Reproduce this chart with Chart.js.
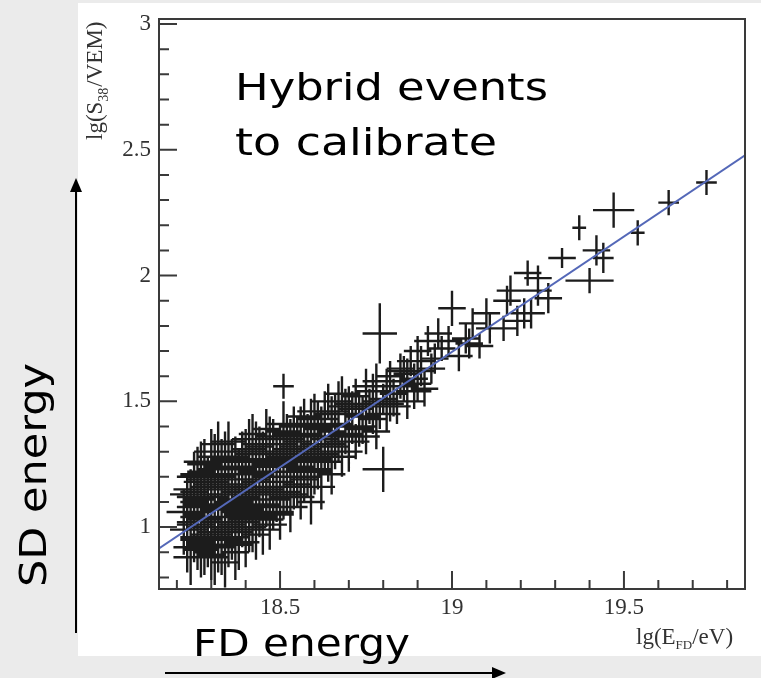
<!DOCTYPE html>
<html>
<head>
<meta charset="utf-8">
<script src="https://cdn.jsdelivr.net/npm/chart.js@4.4.1/dist/chart.umd.min.js"></script>
<style>
  html, body { margin: 0; padding: 0; background: #ebebeb; }
  #wrap { width: 761px; height: 678px; }
</style>
</head>
<body>
<div id="wrap"><canvas id="myChart" width="761" height="678"></canvas></div>
<script>
// hybrid events: lg(E_FD/eV), lg(S38/VEM) and their errors
const eventX = [
  18.23, 18.23, 18.24, 18.24, 18.25, 18.25, 18.25, 18.26, 18.26, 18.26,
  18.27, 18.27, 18.27, 18.28, 18.28, 18.28, 18.28, 18.29, 18.29, 18.29,
  18.30, 18.30, 18.30, 18.30, 18.31, 18.31, 18.31, 18.32, 18.32, 18.32,
  18.32, 18.33, 18.33, 18.33, 18.34, 18.34, 18.34, 18.35, 18.35, 18.35,
  18.36, 18.36, 18.36, 18.37, 18.37, 18.37, 18.38, 18.38, 18.38, 18.39,
  18.39, 18.39, 18.40, 18.40, 18.40, 18.41, 18.41, 18.41, 18.42, 18.42,
  18.42, 18.43, 18.43, 18.43, 18.44, 18.44, 18.45, 18.45, 18.45, 18.46,
  18.46, 18.47, 18.47, 18.47, 18.48, 18.48, 18.49, 18.49, 18.50, 18.50,
  18.51, 18.51, 18.51, 18.52, 18.52, 18.53, 18.53, 18.54, 18.54, 18.55,
  18.55, 18.56, 18.56, 18.57, 18.57, 18.58, 18.58, 18.59, 18.59, 18.60,
  18.60, 18.61, 18.61, 18.62, 18.62, 18.63, 18.63, 18.64, 18.64, 18.65,
  18.65, 18.66, 18.66, 18.67, 18.68, 18.68, 18.69, 18.70, 18.70, 18.71,
  18.72, 18.72, 18.73, 18.74, 18.75, 18.75, 18.76, 18.77, 18.78, 18.78,
  18.79, 18.80, 18.80, 18.81, 18.82, 18.83, 18.84, 18.85, 18.86, 18.87,
  18.88, 18.89, 18.90, 18.91, 18.92, 18.93, 18.95, 18.97, 18.99, 19.00,
  19.02, 19.04, 19.06, 19.08, 19.10, 19.11, 19.15, 19.16, 19.17, 19.19,
  19.21, 19.22, 19.23, 19.25, 19.25, 19.28, 19.32, 19.37, 19.40, 19.42,
  19.44, 19.47, 19.54, 19.63, 19.74,
  18.24, 18.25, 18.26, 18.27, 18.28, 18.29, 18.30, 18.31, 18.32, 18.33,
  18.34, 18.35, 18.36, 18.37, 18.38, 18.39, 18.40, 18.41, 18.42, 18.43,
  18.44, 18.46, 18.48, 18.50, 18.52, 18.54, 18.56, 18.58, 18.60, 18.62,
  18.27, 18.29, 18.31, 18.33, 18.35, 18.37, 18.39, 18.41, 18.44, 18.47,
  18.22, 18.23, 18.24, 18.25, 18.26, 18.27, 18.28, 18.29, 18.30, 18.31,
  18.22, 18.23, 18.24, 18.25, 18.26, 18.27, 18.28, 18.29, 18.30, 18.31,
  18.32, 18.33, 18.34, 18.35, 18.36, 18.37, 18.38, 18.39, 18.40, 18.41,
  18.32, 18.33, 18.34, 18.35, 18.36, 18.37, 18.38, 18.39, 18.40, 18.41,
  18.42, 18.43, 18.44, 18.45, 18.46, 18.47, 18.48, 18.49, 18.50, 18.51,
  18.42, 18.43, 18.44, 18.45, 18.46, 18.47, 18.48, 18.49, 18.50, 18.51,
  18.52, 18.53, 18.54, 18.55, 18.56, 18.57, 18.58, 18.59, 18.60, 18.61,
  18.52, 18.53, 18.55, 18.57, 18.59, 18.61, 18.63, 18.65, 18.67, 18.69,
  18.24, 18.26, 18.28, 18.30, 18.32, 18.34, 18.36, 18.38, 18.40, 18.42,
  18.25, 18.27, 18.29, 18.31, 18.33, 18.35, 18.37, 18.39, 18.41, 18.43,
  18.55, 18.57, 18.59, 18.61, 18.63, 18.65, 18.67, 18.69, 18.71, 18.73,
  18.75, 18.77, 18.79, 18.81, 18.83, 18.85, 18.87, 18.89, 18.91, 18.94,
  18.62, 18.66, 18.70, 18.74, 18.78, 18.82, 18.86, 18.90, 18.96, 19.05
];
const eventY = [
  1.02, 1.08, 0.96, 1.12, 1.05, 0.99, 1.18, 1.09, 0.93, 1.14,
  1.01, 1.22, 1.06, 0.97, 1.11, 1.16, 0.90, 1.03, 1.20, 1.08,
  0.95, 1.13, 1.30, 1.00, 1.07, 0.88, 1.18, 1.04, 1.24, 0.97,
  1.12, 1.09, 0.92, 1.20, 1.02, 1.15, 0.86, 1.07, 1.27, 0.95,
  1.11, 1.01, 1.19, 0.90, 1.14, 1.05, 1.23, 0.98, 1.10, 1.30,
  1.04, 1.17, 0.94, 1.12, 1.21, 1.07, 1.35, 1.16, 1.00, 1.26,
  1.37, 1.11, 1.19, 0.97, 1.24, 1.05, 1.14, 1.30, 0.99, 1.20,
  1.09, 1.27, 1.15, 1.03, 1.35, 1.22, 1.11, 1.29, 1.18, 1.05,
  1.56, 1.25, 1.38, 1.14, 1.31, 1.22, 1.08, 1.40, 1.27, 1.17,
  1.34, 1.24, 1.12, 1.44, 1.30, 1.20, 1.37, 1.27, 1.10, 1.33,
  1.46, 1.23, 1.39, 1.30, 1.16, 1.43, 1.35, 1.26, 1.50, 1.38,
  1.21, 1.32, 1.46, 1.41, 1.28, 1.53, 1.36, 1.45, 1.30, 1.40,
  1.52, 1.34, 1.47, 1.40, 1.56, 1.36, 1.48, 1.43, 1.58, 1.38,
  1.77, 1.23, 1.51, 1.45, 1.60, 1.53, 1.48, 1.63, 1.56, 1.50,
  1.66, 1.59, 1.70, 1.62, 1.55, 1.74, 1.67, 1.71, 1.74, 1.87,
  1.68, 1.75, 1.81, 1.72, 1.85, 1.79, 1.79, 1.90, 1.94, 1.82,
  1.85, 2.01, 1.85, 1.99, 1.94, 1.91, 2.07, 2.19, 1.98, 2.10,
  2.07, 2.26, 2.17, 2.29, 2.37,
  1.04, 1.10, 1.03, 1.12, 1.06, 1.13, 1.08, 1.15, 1.09, 1.16,
  1.10, 1.17, 1.14, 1.19, 1.15, 1.21, 1.17, 1.24, 1.18, 1.26,
  1.21, 1.25, 1.26, 1.28, 1.24, 1.32, 1.29, 1.31, 1.28, 1.36,
  0.94, 0.98, 0.96, 1.00, 1.02, 1.00, 1.08, 1.03, 1.09, 1.09,
  1.06, 0.92, 1.15, 0.95, 1.21, 1.00, 1.25, 0.93, 1.17, 1.02,
  0.99, 1.13, 1.01, 1.20, 1.04, 0.91, 1.13, 1.16, 0.89, 1.28,
  0.93, 1.26, 1.08, 1.21, 0.96, 1.28, 1.06, 1.23, 1.03, 1.29,
  1.16, 1.02, 1.30, 0.99, 1.24, 1.10, 0.93, 1.13, 1.31, 1.00,
  1.09, 1.33, 1.04, 1.27, 1.13, 1.36, 1.08, 1.24, 1.33, 1.12,
  1.22, 1.06, 1.32, 1.18, 1.39, 1.01, 1.30, 1.16, 1.06, 1.41,
  1.20, 1.35, 1.16, 1.28, 1.40, 1.19, 1.29, 1.43, 1.22, 1.32,
  1.37, 1.13, 1.30, 1.26, 1.36, 1.43, 1.29, 1.45, 1.34, 1.48,
  0.88, 1.11, 1.19, 0.92, 1.33, 0.98, 1.26, 0.94, 1.27, 1.31,
  1.14, 1.26, 0.95, 1.23, 1.16, 1.34, 1.23, 1.02, 1.06, 1.15,
  1.36, 1.23, 1.41, 1.27, 1.46, 1.33, 1.50, 1.37, 1.47, 1.39,
  1.49, 1.54, 1.45, 1.56, 1.50, 1.58, 1.61, 1.54, 1.66, 1.63,
  1.40, 1.30, 1.49, 1.44, 1.50, 1.49, 1.62, 1.57, 1.77, 1.73
];
const errX = [
  .03, .03, .03, .04, .03, .04, .03, .04, .03, .03,
  .04, .04, .03, .04, .03, .04, .03, .04, .05, .03,
  .04, .04, .05, .03, .04, .04, .04, .04, .04, .04,
  .03, .04, .04, .04, .04, .03, .04, .04, .05, .04,
  .04, .04, .04, .04, .04, .03, .04, .04, .04, .05,
  .04, .04, .04, .04, .04, .04, .05, .04, .04, .04,
  .04, .04, .04, .04, .04, .04, .04, .04, .05, .04,
  .04, .04, .04, .04, .04, .04, .04, .04, .04, .04,
  .03, .04, .05, .04, .04, .04, .05, .04, .04, .04,
  .04, .04, .04, .05, .04, .04, .04, .04, .04, .04,
  .05, .04, .04, .04, .04, .04, .04, .04, .05, .04,
  .04, .04, .04, .04, .04, .05, .04, .04, .04, .04,
  .04, .04, .04, .04, .04, .04, .04, .04, .04, .04,
  .05, .06, .04, .04, .04, .04, .04, .04, .04, .05,
  .04, .04, .04, .04, .04, .04, .04, .04, .04, .04,
  .04, .04, .04, .04, .04, .04, .04, .04, .04, .04,
  .04, .04, .04, .04, .04, .04, .04, .02, .07, .04,
  .03, .06, .02, .03, .03,
  .03, .04, .03, .04, .03, .04, .03, .04, .03, .04,
  .03, .04, .03, .04, .03, .04, .03, .04, .03, .04,
  .04, .04, .04, .04, .04, .04, .04, .04, .04, .04,
  .04, .03, .04, .03, .04, .03, .04, .03, .04, .03,
  .05, .04, .05, .04, .05, .04, .05, .04, .05, .04,
  .04, .05, .04, .05, .04, .05, .04, .05, .04, .05,
  .05, .04, .05, .04, .05, .04, .05, .04, .05, .04,
  .04, .05, .04, .05, .04, .05, .04, .05, .04, .05,
  .05, .04, .05, .04, .05, .04, .05, .04, .05, .04,
  .04, .05, .04, .05, .04, .05, .04, .05, .04, .05,
  .05, .04, .05, .04, .05, .04, .05, .04, .05, .04,
  .04, .05, .04, .05, .04, .05, .04, .05, .04, .05,
  .05, .04, .05, .04, .05, .04, .05, .04, .05, .04,
  .04, .05, .04, .05, .04, .05, .04, .05, .04, .05,
  .04, .05, .04, .04, .05, .04, .04, .05, .04, .04,
  .04, .05, .04, .04, .05, .04, .04, .05, .04, .04,
  .05, .04, .04, .05, .04, .04, .05, .04, .04, .04
];
const errY = [
  .08, .07, .09, .08, .08, .10, .07, .08, .10, .07,
  .09, .08, .08, .10, .08, .07, .09, .09, .08, .08,
  .10, .08, .09, .09, .08, .11, .07, .09, .08, .10,
  .08, .09, .11, .08, .10, .08, .10, .09, .08, .11,
  .08, .10, .09, .11, .08, .09, .08, .10, .09, .08,
  .09, .08, .10, .09, .08, .09, .08, .09, .10, .08,
  .08, .09, .08, .10, .08, .09, .09, .08, .10, .08,
  .09, .08, .08, .10, .08, .09, .09, .08, .09, .10,
  .05, .08, .08, .09, .08, .08, .10, .08, .08, .09,
  .08, .08, .09, .07, .08, .08, .08, .08, .09, .08,
  .07, .08, .08, .07, .09, .08, .07, .08, .07, .07,
  .08, .08, .07, .07, .08, .07, .07, .07, .08, .07,
  .07, .07, .07, .07, .07, .07, .07, .06, .07, .07,
  .12, .09, .06, .07, .06, .06, .07, .06, .06, .07,
  .06, .06, .06, .06, .07, .06, .06, .05, .06, .07,
  .06, .06, .06, .05, .06, .06, .05, .06, .06, .06,
  .06, .05, .06, .05, .06, .06, .04, .05, .05, .06,
  .06, .07, .05, .05, .05,
  .09, .08, .09, .08, .09, .08, .09, .08, .09, .08,
  .09, .08, .09, .08, .09, .08, .09, .08, .09, .08,
  .08, .08, .08, .08, .08, .08, .08, .08, .08, .08,
  .10, .10, .11, .10, .10, .11, .10, .10, .10, .10,
  .09, .10, .08, .09, .11, .08, .10, .09, .08, .10,
  .10, .08, .09, .10, .08, .11, .09, .08, .10, .09,
  .11, .09, .08, .10, .09, .08, .10, .09, .08, .10,
  .09, .10, .08, .11, .09, .08, .10, .09, .08, .10,
  .10, .09, .08, .09, .10, .08, .09, .10, .08, .09,
  .09, .10, .08, .09, .08, .10, .09, .08, .10, .09,
  .09, .08, .09, .08, .08, .09, .08, .08, .09, .08,
  .08, .09, .08, .08, .08, .07, .08, .07, .08, .07,
  .11, .09, .08, .10, .09, .10, .09, .11, .09, .08,
  .09, .08, .10, .09, .09, .08, .09, .10, .10, .09,
  .08, .07, .08, .07, .08, .07, .08, .07, .07, .07,
  .07, .07, .06, .07, .06, .07, .06, .07, .06, .06,
  .08, .07, .07, .08, .07, .07, .06, .07, .06, .06
];

// calibration fit line
const fitX = [18.148, 19.852];
const fitY = [0.915, 2.478];

// axis ticks
const xTicks = [18.5, 19, 19.5];
const xTickLabels = ['18.5', '19', '19.5'];
const yTicks = [1, 1.5, 2, 2.5, 3];
const yTickLabels = ['1', '1.5', '2', '2.5', '3'];

const events = eventX.map((x, i) => ({ x: x, y: eventY[i], ex: errX[i], ey: errY[i] }));
const fitLine = fitX.map((x, i) => ({ x: x, y: fitY[i] }));

const errorBars = {
  id: 'errorBars',
  beforeDatasetsDraw(chart) {
    const { ctx, chartArea, scales: { x, y } } = chart;
    ctx.save();
    ctx.beginPath();
    ctx.rect(chartArea.left, chartArea.top, chartArea.right - chartArea.left, chartArea.bottom - chartArea.top);
    ctx.clip();
    ctx.strokeStyle = '#1c1c1c';
    ctx.lineWidth = 2.4;
    ctx.beginPath();
    chart.data.datasets[0].data.forEach(p => {
      const px = x.getPixelForValue(p.x), py = y.getPixelForValue(p.y);
      ctx.moveTo(x.getPixelForValue(p.x - p.ex), py);
      ctx.lineTo(x.getPixelForValue(p.x + p.ex), py);
      ctx.moveTo(px, y.getPixelForValue(p.y - p.ey));
      ctx.lineTo(px, y.getPixelForValue(p.y + p.ey));
    });
    ctx.stroke();
    ctx.restore();
  }
};

function stretchText(ctx, text, x, y, width) {
  const w = ctx.measureText(text).width;
  ctx.save();
  ctx.translate(x, y);
  ctx.scale(width / w, 1);
  ctx.fillText(text, 0, 0);
  ctx.restore();
}

function arrow(ctx, x0, y0, x1, y1) {
  const a = Math.atan2(y1 - y0, x1 - x0);
  ctx.beginPath();
  ctx.moveTo(x0, y0);
  ctx.lineTo(x1 - 12 * Math.cos(a), y1 - 12 * Math.sin(a));
  ctx.stroke();
  ctx.save();
  ctx.translate(x1, y1);
  ctx.rotate(a);
  ctx.beginPath();
  ctx.moveTo(0, 0);
  ctx.lineTo(-14, -6);
  ctx.lineTo(-14, 6);
  ctx.closePath();
  ctx.fill();
  ctx.restore();
}

const frame = {
  id: 'frame',
  beforeDraw(chart) {
    const ctx = chart.ctx;
    ctx.save();
    ctx.fillStyle = '#ebebeb';
    ctx.fillRect(0, 0, chart.width, chart.height);
    ctx.fillStyle = '#ffffff';
    ctx.fillRect(78, 3, chart.width - 78, 653);
    ctx.restore();
  },
  afterDraw(chart) {
    const { ctx, chartArea: a, scales: { x, y } } = chart;
    ctx.save();
    ctx.strokeStyle = '#3a3a3a';
    ctx.lineWidth = 2;
    ctx.strokeRect(a.left, a.top, a.right - a.left, a.bottom - a.top);

    // inward ticks
    ctx.beginPath();
    for (let k = Math.ceil(x.min * 10); k <= Math.floor(x.max * 10); k++) {
      const v = k / 10, px = x.getPixelForValue(v);
      const major = k % 5 === 0;
      ctx.moveTo(px, a.bottom);
      ctx.lineTo(px, a.bottom - (major ? 18 : 9));
    }
    for (let k = Math.ceil(y.min * 10); k <= Math.floor(y.max * 10); k++) {
      const v = k / 10, py = y.getPixelForValue(v);
      const major = k % 5 === 0;
      ctx.moveTo(a.left, py);
      ctx.lineTo(a.left + (major ? 18 : 10), py);
    }
    ctx.stroke();

    // tick labels
    ctx.fillStyle = '#333333';
    ctx.font = '23px "Liberation Serif"';
    ctx.textAlign = 'center';
    ctx.textBaseline = 'top';
    xTicks.forEach((v, i) => ctx.fillText(xTickLabels[i], x.getPixelForValue(v), 596));
    ctx.textAlign = 'right';
    ctx.textBaseline = 'middle';
    yTicks.forEach((v, i) => ctx.fillText(yTickLabels[i], a.left - 8, y.getPixelForValue(v)));

    // axis titles
    ctx.textAlign = 'left';
    ctx.textBaseline = 'alphabetic';
    let cx = 636;
    ctx.font = '23px "Liberation Serif"';
    ctx.fillText('lg(E', cx, 644); cx += ctx.measureText('lg(E').width;
    ctx.font = '13px "Liberation Serif"';
    ctx.fillText('FD', cx, 649); cx += ctx.measureText('FD').width;
    ctx.font = '23px "Liberation Serif"';
    ctx.fillText('/eV)', cx, 644);

    ctx.save();
    ctx.translate(102, 140);
    ctx.rotate(-Math.PI / 2);
    cx = 0;
    ctx.font = '23px "Liberation Serif"';
    ctx.fillText('lg(S', cx, 0); cx += ctx.measureText('lg(S').width;
    ctx.font = '14px "Liberation Serif"';
    ctx.fillText('38', cx, 6); cx += ctx.measureText('38').width + 1;
    ctx.font = '23px "Liberation Serif"';
    ctx.fillText('/VEM)', cx, 0);
    ctx.restore();

    // annotations
    ctx.fillStyle = '#000000';
    ctx.strokeStyle = '#000000';
    ctx.font = '38px "DejaVu Sans"';
    stretchText(ctx, 'Hybrid events', 235, 100, 313);
    stretchText(ctx, 'to calibrate', 235, 155, 262);
    stretchText(ctx, 'FD energy', 193, 656, 217);
    ctx.save();
    ctx.translate(46, 587);
    ctx.rotate(-Math.PI / 2);
    stretchText(ctx, 'SD energy', 0, 0, 224);
    ctx.restore();

    ctx.lineWidth = 2;
    arrow(ctx, 76, 633, 76, 178);
    arrow(ctx, 165, 673, 506, 673);
    ctx.restore();
  }
};

new Chart(document.getElementById('myChart'), {
  type: 'scatter',
  data: {
    datasets: [{
      data: events,
      pointRadius: 0,
      pointHoverRadius: 0
    }, {
      data: fitLine,
      showLine: true,
      borderColor: '#5468b8',
      borderWidth: 2,
      pointRadius: 0
    }]
  },
  options: {
    responsive: false,
    animation: false,
    events: [],
    layout: { padding: { left: 159, right: 16, top: 19, bottom: 89 } },
    plugins: { legend: { display: false }, tooltip: { enabled: false } },
    scales: {
      x: { type: 'linear', min: 18.148, max: 19.852, display: false },
      y: { type: 'linear', min: 0.754, max: 3.02, display: false }
    }
  },
  plugins: [frame, errorBars]
});
</script>
</body>
</html>
